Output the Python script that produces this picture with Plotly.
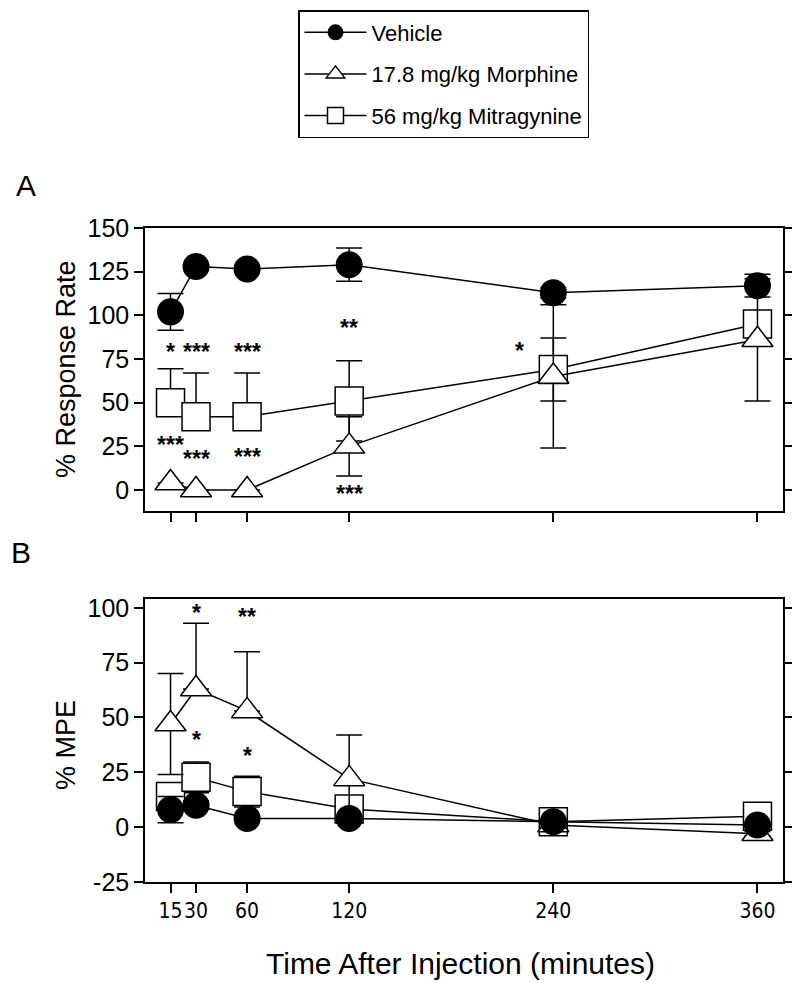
import plotly.graph_objects as go

# ---------------- data ----------------
times = [15, 30, 60, 120, 240, 360]
time_labels = ["15", "30", "60", "120", "240", "360"]

# Panel A: % Response Rate
veh_rate = [102, 128, 126.5, 129, 113, 117]
veh_rate_err = [10.5, 2, 2, 9.5, 3, 6.5]
mor_rate = [4, 0, 0, 25, 65, 86]
mor_rate_err = [0, 0, 0, 17, 41, 35]
mit_rate = [50, 42, 42, 51, 69, 95]
mit_rate_err_up = [19.5, 25, 25, 23, 18, 3]
mit_rate_err_dn = [0, 0, 0, 23, 18, 3]

# Panel B: % MPE
veh_mpe = [8, 10, 4, 4, 2.5, 1]
veh_mpe_err = [6, 2, 1, 1, 1, 1]
mor_mpe = [47, 63, 53, 22, 1, -3]
mor_mpe_err_up = [23, 30, 27, 20, 1, 1]
mor_mpe_err_dn = [23, 0, 0, 20, 1, 1]
mit_mpe = [14, 22.7, 16.2, 8.3, 2.5, 5]
mit_mpe_err = [5, 7, 7, 5, 1, 1]

# significance labels
sig_a_text = ["*", "***", "***", "**", "*", "***", "***", "***", "***"]
sig_a_x = [15, 30, 60, 120, 220, 15, 30, 60, 120]
sig_a_y = [80, 80, 80, 94, 81, 27, 19, 20, -1]
sig_b_text = ["*", "**", "*", "*"]
sig_b_x = [30, 60, 30, 60]
sig_b_y = [99, 97, 41, 34]

rate_ticks = [0, 25, 50, 75, 100, 125, 150]
mpe_ticks = [-25, 0, 25, 50, 75, 100]
mpe_tick_labels = ["-25", "0", "25", "50", "75", "100"]

names = ["Vehicle", "17.8 mg/kg Morphine", "56 mg/kg Mitragynine"]

# ---------------- style / geometry ----------------
OFF = 8                      # page body margin of the browser
W, H = 800 - OFF, 983 - OFF  # figure size
def px(x):
    return (x - OFF) / W
def py(y):
    return 1 - (y - OFF) / H

FONT = "Liberation Sans, Arial, sans-serif"
NARROW = "Liberation Sans Narrow, Arial Narrow, DejaVu Sans Condensed, Liberation Sans, sans-serif"
LW = 1.5

def err(up, dn=None):
    d = dict(type="data", array=up, color="black", thickness=LW, width=13, visible=True)
    if dn is not None:
        d["symmetric"] = False
        d["arrayminus"] = dn
    return d

mk_mit = dict(symbol="square", size=28, color="white", line=dict(color="black", width=LW))
mk_mor = dict(symbol="triangle-up", size=27, color="white", line=dict(color="black", width=LW))
mk_veh = dict(symbol="circle", size=27, color="black", line=dict(color="black", width=0))
line = dict(color="black", width=LW)

fig = go.Figure()

# Panel A
fig.add_trace(go.Scatter(x=times, y=mit_rate, mode="lines+markers", name=names[2],
                         marker=mk_mit, line=line, error_y=err(mit_rate_err_up, mit_rate_err_dn),
                         xaxis="x", yaxis="y", legendrank=3, legendgroup="c"))
fig.add_trace(go.Scatter(x=times, y=mor_rate, mode="lines+markers", name=names[1],
                         marker=mk_mor, line=line, error_y=err(mor_rate_err),
                         xaxis="x", yaxis="y", legendrank=2, legendgroup="b"))
fig.add_trace(go.Scatter(x=times, y=veh_rate, mode="lines+markers", name=names[0],
                         marker=mk_veh, line=line, error_y=err(veh_rate_err),
                         xaxis="x", yaxis="y", legendrank=1, legendgroup="a"))

# Panel B
fig.add_trace(go.Scatter(x=times, y=mit_mpe, mode="lines+markers", name=names[2],
                         marker=mk_mit, line=line, error_y=err(mit_mpe_err),
                         xaxis="x2", yaxis="y2", showlegend=False, legendgroup="c"))
fig.add_trace(go.Scatter(x=times, y=mor_mpe, mode="lines+markers", name=names[1],
                         marker=mk_mor, line=line, error_y=err(mor_mpe_err_up, mor_mpe_err_dn),
                         xaxis="x2", yaxis="y2", showlegend=False, legendgroup="b"))
fig.add_trace(go.Scatter(x=times, y=veh_mpe, mode="lines+markers", name=names[0],
                         marker=mk_veh, line=line, error_y=err(veh_mpe_err),
                         xaxis="x2", yaxis="y2", showlegend=False, legendgroup="a"))

# axes geometry (page pixels)
xl, xr = 145, 783
a_top, a_bot = 228, 511
b_top, b_bot = 599, 882

axis_common = dict(showline=True, linecolor="black", linewidth=LW, ticks="outside",
                   ticklen=9, tickwidth=LW, tickcolor="black", showgrid=False,
                   zeroline=False, automargin=False)

fig.update_layout(
    width=W, height=H,
    margin=dict(l=0, r=0, t=0, b=0),
    paper_bgcolor="white", plot_bgcolor="white",
    font=dict(family=FONT, color="black"),
    xaxis=dict(domain=[px(xl), px(xr)], range=[0, 375], tickvals=times,
               showticklabels=False, mirror=True, anchor="y", **axis_common),
    yaxis=dict(domain=[py(a_bot), py(a_top)], range=[-12, 150], tickvals=rate_ticks,
               tickfont=dict(size=25, family=FONT), mirror="ticks", anchor="x", **axis_common),
    xaxis2=dict(domain=[px(xl), px(xr)], range=[0, 375], tickvals=times, ticktext=time_labels,
                tickangle=0, tickfont=dict(size=21, family=NARROW), mirror=True, anchor="y2",
                **axis_common),
    yaxis2=dict(domain=[py(b_bot), py(b_top)], range=[-25, 104], tickvals=mpe_ticks,
                ticktext=mpe_tick_labels, tickfont=dict(size=25, family=FONT),
                mirror="ticks", anchor="x2", **axis_common),
    legend=dict(x=px(298), y=py(10), xanchor="left", yanchor="top",
                bordercolor="black", borderwidth=LW, bgcolor="white",
                font=dict(size=22, family=FONT), tracegroupgap=10, itemwidth=62,
                traceorder="grouped"),
    showlegend=True,
)

ann = []
for t, x, y in zip(sig_a_text, sig_a_x, sig_a_y):
    ann.append(dict(text="<b>" + t + "</b>", x=x, y=y, xref="x", yref="y", showarrow=False,
                    xanchor="center", yanchor="middle",
                    font=dict(size=23, family=FONT), yshift=-2))
for t, x, y in zip(sig_b_text, sig_b_x, sig_b_y):
    ann.append(dict(text="<b>" + t + "</b>", x=x, y=y, xref="x2", yref="y2", showarrow=False,
                    xanchor="center", yanchor="middle",
                    font=dict(size=23, family=FONT), yshift=-3))

def lab(text, x, y, size, angle=0):
    return dict(text=text, x=px(x), y=py(y), xref="paper", yref="paper", showarrow=False,
                xanchor="center", yanchor="middle", textangle=angle,
                font=dict(size=size, family=FONT))

ann += [
    lab("A", 26, 185, 30),
    lab("B", 21, 552, 30),
    lab("% Response Rate", 66, 369, 27, -90),
    lab("% MPE", 66, 745, 27, -90),
    lab("Time After Injection (minutes)", 460, 963, 30),
]
fig.update_layout(annotations=ann)

fig.write_html("out.html")
